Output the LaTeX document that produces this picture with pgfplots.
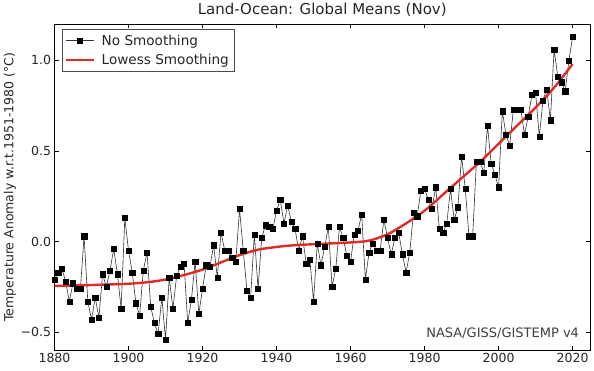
\documentclass[border=0pt]{standalone}
\usepackage{fontspec}
\setmainfont{DejaVu Sans}
\usepackage{pgfplots}
\pgfplotsset{compat=1.18}
\usepackage{pgfplotstable}
\definecolor{lowess}{RGB}{222,45,38}

\pgfplotstableread{
year val
1880 -0.21
1881 -0.17
1882 -0.15
1883 -0.22
1884 -0.33
1885 -0.23
1886 -0.26
1887 -0.26
1888 0.03
1889 -0.33
1890 -0.43
1891 -0.31
1892 -0.42
1893 -0.18
1894 -0.25
1895 -0.16
1896 -0.04
1897 -0.18
1898 -0.37
1899 0.13
1900 -0.05
1901 -0.17
1902 -0.34
1903 -0.41
1904 -0.16
1905 -0.06
1906 -0.36
1907 -0.45
1908 -0.51
1909 -0.31
1910 -0.54
1911 -0.20
1912 -0.37
1913 -0.19
1914 -0.14
1915 -0.12
1916 -0.45
1917 -0.32
1918 -0.11
1919 -0.40
1920 -0.26
1921 -0.13
1922 -0.14
1923 -0.02
1924 -0.20
1925 0.05
1926 -0.05
1927 -0.05
1928 -0.09
1929 -0.11
1930 0.18
1931 -0.05
1932 -0.27
1933 -0.31
1934 0.04
1935 -0.26
1936 0.02
1937 0.09
1938 0.08
1939 0.07
1940 0.17
1941 0.23
1942 0.10
1943 0.20
1944 0.11
1945 0.07
1946 -0.05
1947 0.03
1948 -0.12
1949 -0.10
1950 -0.33
1951 -0.01
1952 -0.13
1953 -0.03
1954 0.08
1955 -0.25
1956 -0.15
1957 0.08
1958 0.02
1959 -0.08
1960 -0.11
1961 0.04
1962 0.06
1963 0.15
1964 -0.21
1965 -0.06
1966 -0.01
1967 -0.05
1968 -0.05
1969 0.12
1970 0.02
1971 -0.07
1972 0.02
1973 0.05
1974 -0.07
1975 -0.17
1976 -0.06
1977 0.16
1978 0.14
1979 0.28
1980 0.29
1981 0.23
1982 0.18
1983 0.30
1984 0.07
1985 0.05
1986 0.10
1987 0.29
1988 0.12
1989 0.19
1990 0.47
1991 0.29
1992 0.03
1993 0.03
1994 0.44
1995 0.44
1996 0.38
1997 0.64
1998 0.43
1999 0.37
2000 0.30
2001 0.72
2002 0.59
2003 0.53
2004 0.73
2005 0.73
2006 0.73
2007 0.59
2008 0.69
2009 0.81
2010 0.82
2011 0.58
2012 0.78
2013 0.84
2014 0.67
2015 1.06
2016 0.91
2017 0.88
2018 0.83
2019 1.00
2020 1.13
}\rawdata

\pgfplotstableread{
year val
1880 -0.245
1885 -0.243
1890 -0.240
1895 -0.237
1900 -0.233
1905 -0.225
1910 -0.210
1915 -0.185
1920 -0.155
1925 -0.115
1930 -0.075
1935 -0.045
1940 -0.030
1945 -0.020
1950 -0.015
1955 -0.010
1960 -0.005
1965 0.005
1970 0.040
1975 0.100
1980 0.170
1985 0.260
1990 0.350
1995 0.440
2000 0.540
2005 0.640
2010 0.740
2015 0.850
2020 0.980
}\lowessdata

\begin{document}
\begin{tikzpicture}
\begin{axis}[
  name=ax,
  scale only axis,
  width=535.5bp, height=326bp,
  xmin=1880, xmax=2024.7,
  ymin=-0.6, ymax=1.2,
  xtick={1880,1900,1920,1940,1960,1980,2000,2020},
  xticklabels={1880,1900,1920,1940,1960,1980,2000,2020},
  ytick={-0.5,0,0.5,1.0},
  yticklabels={−0.5,0.0,0.5,1.0},
  tick align=inside,
  major tick length=4bp,
  minor tick num=0,
  axis line style={black, line width=0.8bp},
  tick style={black, line width=0.6bp},
  ticklabel style={font=\fontsize{12.5bp}{14bp}\selectfont, text=black!85},
  title={Land-Ocean: Global Means (Nov)},
  title style={font=\fontsize{15bp}{17bp}\selectfont, text=black!85, at={(axis description cs:0.5,1)}, anchor=base, yshift=3.5bp},
  ylabel={Temperature Anomaly w.r.t.1951-1980 (°C)},
  ylabel style={font=\fontsize{12.5bp}{14bp}\selectfont, text=black!85, at={(axis description cs:-0.0831,0.5)}, anchor=center},
  legend cell align=left,
  legend style={at={(0,1)}, anchor=north west, xshift=7.5bp, yshift=-5.3bp,
    draw=black!70, line width=0.6bp, font=\fontsize{13.6bp}{15bp}\selectfont,
    text=black!85, inner sep=2bp, row sep=1.5bp,
    nodes={inner sep=3bp}},
  legend image code/.code={%
    \draw[mark repeat=2, mark phase=2, #1] plot coordinates {(0bp,0bp) (14bp,0bp) (28bp,0bp)};
    \path (32bp,0bp);},
]
\addplot[black!80, line width=0.6bp, mark=square*, mark size=2.6bp,
  mark options={black, line width=0.3bp}] table[x=year, y=val] {\rawdata};
\addlegendentry{No Smoothing}
\addplot[lowess, line width=2.4bp, smooth, no markers] table[x=year, y=val] {\lowessdata};
\addlegendentry{Lowess Smoothing}
\node[anchor=base east, font=\fontsize{13bp}{15bp}\selectfont, text=black!75]
  at ([xshift=-7.5bp, yshift=12.7bp]rel axis cs:1,0) {NASA/GISS/GISTEMP v4};
\end{axis}
\path[use as bounding box] ([xshift=-54.5bp, yshift=-20.3bp]ax.south west) rectangle ([xshift=4bp, yshift=20.7bp]ax.north east);
\end{tikzpicture}
\end{document}
